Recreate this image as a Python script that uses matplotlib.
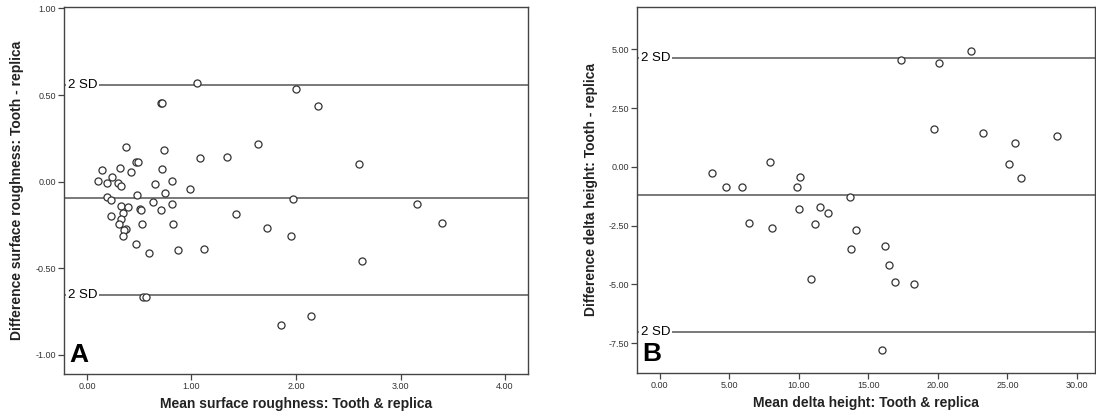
import matplotlib
matplotlib.use("Agg")
import matplotlib.pyplot as plt
from matplotlib.ticker import FormatStrFormatter

plt.rcParams['font.family'] = ['Liberation Sans', 'DejaVu Sans']

# panel A: surface roughness (mean, difference)
rough_mean = [1.05, 2.00, 0.71, 0.72, 2.21, 0.37, 0.74, 1.64, 1.08, 1.34,
              0.47, 0.49, 0.14, 0.32, 0.42, 0.72, 0.24, 0.11, 0.19, 0.30,
              0.33, 0.65, 0.81, 0.99, 0.48, 0.75, 0.19, 0.23, 1.97, 2.60,
              3.16, 0.33, 0.39, 0.51, 0.52, 0.63, 0.81, 0.71, 0.23, 0.34,
              0.33, 0.31, 0.37, 0.35, 0.34, 0.53, 0.82, 0.47, 0.59, 0.87,
              1.12, 1.43, 1.72, 1.95, 0.54, 0.56, 2.63, 3.40, 2.14, 1.86]
rough_diff = [0.570, 0.533, 0.455, 0.452, 0.439, 0.198, 0.183, 0.219, 0.137, 0.144,
              0.112, 0.112, 0.066, 0.077, 0.056, 0.075, 0.027, 0.004, -0.006, -0.008,
              -0.023, -0.012, 0.004, -0.044, -0.077, -0.063, -0.087, -0.106, -0.098, 0.100,
              -0.127, -0.140, -0.149, -0.156, -0.165, -0.115, -0.130, -0.163, -0.198, -0.182,
              -0.214, -0.247, -0.272, -0.280, -0.316, -0.244, -0.243, -0.358, -0.413, -0.396,
              -0.391, -0.189, -0.265, -0.316, -0.668, -0.668, -0.459, -0.240, -0.775, -0.827]
rough_lines = [0.56, -0.092, -0.654]  # +2 SD, mean, -2 SD

# panel B: delta height (mean, difference)
height_mean = [3.75, 4.74, 5.94, 7.90, 10.07, 9.86, 13.71, 6.44, 8.09, 10.00,
               11.54, 12.08, 11.18, 14.14, 13.73, 10.86, 17.32, 20.05, 22.42, 19.76,
               23.26, 28.59, 25.56, 25.10, 25.99, 16.17, 16.46, 16.94, 18.28, 15.96]
height_diff = [-0.25, -0.87, -0.87, 0.22, -0.43, -0.86, -1.28, -2.39, -2.61, -1.78,
               -1.69, -1.98, -2.44, -2.69, -3.49, -4.79, 4.53, 4.43, 4.92, 1.61,
               1.42, 1.33, 1.01, 0.12, -0.49, -3.38, -4.19, -4.90, -4.99, -7.79]
height_lines = [4.65, -1.19, -7.03]

W, H = 1096, 416
fig = plt.figure(figsize=(W / 100, H / 100), dpi=100)
axA = fig.add_axes([64 / W, 42 / H, 464 / W, 367 / H])
axB = fig.add_axes([637 / W, 43 / H, 458 / W, 366 / H])


def draw(ax, x, y, lines, xlim, ylim, xticks, yticks, xlabel, ylabel, letter):
    ax.scatter(x, y, s=26, facecolors='white', edgecolors='#333333',
               linewidths=0.9, zorder=3)
    for v in lines:
        ax.axhline(v, color='#555555', lw=1.1, zorder=1)
    for v in (lines[0], lines[2]):
        ax.text(0.008, v, '2 SD', transform=ax.get_yaxis_transform(),
                fontsize=9.5, va='center', ha='left', zorder=2,
                bbox=dict(facecolor='white', edgecolor='none', pad=1))
    ax.set_xlim(*xlim)
    ax.set_ylim(*ylim)
    ax.set_xticks(xticks)
    ax.set_yticks(yticks)
    ax.xaxis.set_major_formatter(FormatStrFormatter('%.2f'))
    ax.yaxis.set_major_formatter(FormatStrFormatter('%.2f'))
    ax.tick_params(labelsize=6.5, length=4, width=0.9, color='#444444',
                   labelcolor='#333333', pad=2)
    for s in ax.spines.values():
        s.set_color('#444444')
        s.set_linewidth(1.0)
    ax.set_xlabel(xlabel, fontsize=10, fontweight='bold', color='#222222')
    ax.set_ylabel(ylabel, fontsize=10, fontweight='bold', color='#222222')
    ax.xaxis.set_label_coords(0.5, -0.063)
    ax.yaxis.set_label_coords(-0.086, 0.5)
    ax.text(0.012, 0.02, letter, transform=ax.transAxes, fontsize=19,
            fontweight='bold', va='bottom', ha='left')


draw(axA, rough_mean, rough_diff, rough_lines, (-0.22, 4.22), (-1.11, 1.008),
     [0, 1, 2, 3, 4], [-1.0, -0.5, 0.0, 0.5, 1.0],
     'Mean surface roughness: Tooth & replica',
     'Difference surface roughness: Tooth - replica', 'A')
draw(axB, height_mean, height_diff, height_lines, (-1.63, 31.3), (-8.77, 6.8),
     [0, 5, 10, 15, 20, 25, 30], [-7.5, -5.0, -2.5, 0.0, 2.5, 5.0],
     'Mean delta height: Tooth & replica',
     'Difference delta height: Tooth - replica', 'B')

fig.savefig('out.png', dpi=100)
